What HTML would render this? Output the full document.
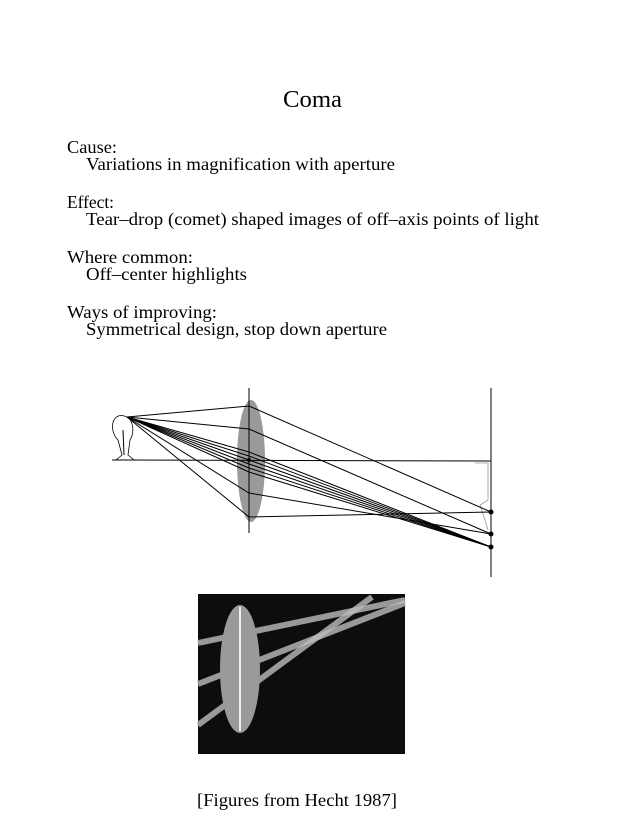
<!DOCTYPE html>
<html><head><meta charset="utf-8"><style>
html,body{margin:0;padding:0;background:#fff;}
svg{display:block;}
text{font-family:"Liberation Serif",serif;fill:#000;}
</style></head><body>
<svg width="637" height="825" viewBox="0 0 637 825" xmlns="http://www.w3.org/2000/svg">
<text x="283" y="107" font-size="24" textLength="59" lengthAdjust="spacingAndGlyphs">Coma</text>
<g font-size="18">
<text x="67" y="153" textLength="50" lengthAdjust="spacingAndGlyphs">Cause:</text>
<text x="86" y="170" textLength="309" lengthAdjust="spacingAndGlyphs">Variations in magnification with aperture</text>
<text x="67" y="208" textLength="47" lengthAdjust="spacingAndGlyphs">Effect:</text>
<text x="86" y="225" textLength="453" lengthAdjust="spacingAndGlyphs">Tear–drop (comet) shaped images of off–axis points of light</text>
<text x="67" y="263" textLength="126" lengthAdjust="spacingAndGlyphs">Where common:</text>
<text x="86" y="280" textLength="161" lengthAdjust="spacingAndGlyphs">Off–center highlights</text>
<text x="67" y="318" textLength="150" lengthAdjust="spacingAndGlyphs">Ways of improving:</text>
<text x="86" y="335" textLength="301" lengthAdjust="spacingAndGlyphs">Symmetrical design, stop down aperture</text>
<text x="197" y="806" textLength="200" lengthAdjust="spacingAndGlyphs">[Figures from Hecht 1987]</text>
</g>
<!-- diagram -->
<ellipse cx="251" cy="461" rx="14" ry="61" fill="#9a9a9a"/>
<line x1="249" y1="388" x2="249" y2="533" stroke="#000" stroke-width="1"/>
<line x1="112" y1="460" x2="491" y2="461" stroke="#000" stroke-width="1"/>
<line x1="491" y1="388" x2="491" y2="577" stroke="#000" stroke-width="1"/>
<path d="M127 417 C112 410 108 430 118 440 L122 455 L116 460 L134 460 L128 455 L130 440 C135 432 133 420 127 417 Z" fill="none" stroke="#000" stroke-width="0.8"/>
<line x1="123" y1="430" x2="124" y2="455" stroke="#000"/>
<path d="M475 463 L488 463 L488 500 L480 505 L485 520 L488 530" fill="none" stroke="#999" stroke-width="0.8"/>
<g stroke="#000" stroke-width="1" fill="none">
<polyline points="127,417 249,406 491,512"/>
<polyline points="127,417 249,429 491,534"/>
<polyline points="127,417 249,493 491,534"/>
<polyline points="127,417 249,517 491,512"/>
<polyline points="127,417 249,452 491,547"/>
<polyline points="127,417 249,456 491,547"/>
<polyline points="127,417 249,460 491,547"/>
<polyline points="127,417 249,464 491,547"/>
<polyline points="127,417 249,468 491,547"/>
<polyline points="127,417 249,472 491,547"/>
</g>
<g fill="#000">
<circle cx="491" cy="512" r="2.5"/><circle cx="491" cy="534" r="2.5"/><circle cx="491" cy="547" r="2.5"/>
<circle cx="249" cy="460" r="2"/>
</g>
<!-- photo -->
<rect x="198" y="594" width="207" height="160" fill="#0d0d0d"/>
<g stroke="#bdbdbd" stroke-linecap="butt">
<line x1="198" y1="643" x2="405" y2="600" stroke-width="6" opacity="0.8"/>
<line x1="198" y1="684" x2="405" y2="603" stroke-width="6" opacity="0.8"/>
<line x1="198" y1="725" x2="372" y2="597" stroke-width="6" opacity="0.8"/>
</g>
<ellipse cx="240" cy="669" rx="20" ry="64" fill="#9a9a9a"/>
<line x1="240" y1="607" x2="240" y2="731" stroke="#eee" stroke-width="2"/>
</svg>
</body></html>
